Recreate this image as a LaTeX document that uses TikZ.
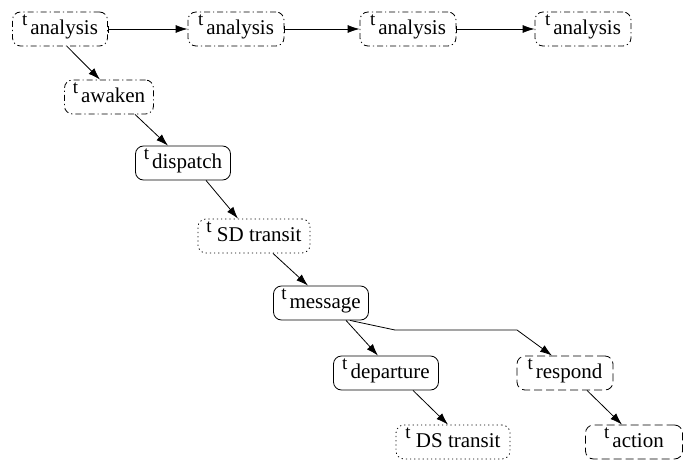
\documentclass[tikz,border=0pt]{standalone}
\usepackage{fontspec}
\setmainfont{LiberationSerif}[Extension=.ttf, UprightFont=*-Regular]
\newfontfamily\labfont{LiberationSerif}[Extension=.ttf, UprightFont=*-Regular]
\usetikzlibrary{arrows.meta}
\newcommand{\tlab}[2]{\raisebox{9pt}{\fontsize{19}{19}\selectfont t}#1#2}
\begin{document}
\begin{tikzpicture}[x=1pt,y=-1pt,
  box/.style={draw, rounded corners=8pt, line width=0.8pt, inner sep=0pt,
    minimum height=34pt, font=\labfont\fontsize{21}{25}\selectfont, text height=17pt, text depth=6pt},
  dd/.style={box, dash pattern=on 6pt off 3pt on 1.2pt off 3pt},
  dsh/.style={box, dash pattern=on 8pt off 4pt},
  dot/.style={box, dash pattern=on 1.2pt off 3pt},
  sol/.style={box},
  arr/.style={line width=0.8pt, -{Latex[length=12pt,width=8pt]}},
  barr/.style={line width=0.8pt, {Bar[width=7pt,line width=0.8pt]}-{Latex[length=12pt,width=8pt]}}
]
\useasboundingbox (0,0) rectangle (699,463);
\node[dd, minimum width=95pt] (a1) at (60,29) {\tlab{\hspace{3pt}}{analysis}};
\node[dd, minimum width=96pt] (a2) at (236,29) {\tlab{\hspace{3pt}}{analysis}};
\node[dd, minimum width=96pt] (a3) at (408,29) {\tlab{\hspace{3pt}}{analysis}};
\node[dd, minimum width=96pt] (a4) at (583,29) {\tlab{\hspace{3pt}}{analysis}};
\node[dd, minimum width=89pt] (aw) at (109,97) {\tlab{\hspace{3pt}}{awaken}};
\node[sol, minimum width=95pt] (di) at (183,163) {\tlab{\hspace{3pt}}{dispatch}};
\node[dot, minimum width=112pt] (sd) at (254,236) {\tlab{ }{SD transit}};
\node[sol, minimum width=95pt] (me) at (321,303) {\tlab{\hspace{3pt}}{message}};
\node[sol, minimum width=105pt] (de) at (386,373) {\tlab{\hspace{3pt}}{departure}};
\node[dot, minimum width=114pt] (ds) at (453,442) {\tlab{ }{DS transit}};
\node[dsh, minimum width=96pt] (re) at (565,373) {\tlab{\hspace{3pt}}{respond}};
\node[dsh, minimum width=97pt] (ac) at (634,442) {\tlab{\hspace{3pt}}{action}};

\draw[barr] (a1.east) -- (a2.west);
\draw[barr] (a2.east) -- (a3.west);
\draw[barr] (a3.east) -- (a4.west);
\draw[arr] ([xshift=7pt]a1.south) -- ([xshift=-9pt]aw.north);
\draw[arr] ([xshift=26pt]aw.south) -- ([xshift=-15pt]di.north);
\draw[arr] ([xshift=23pt]di.south) -- ([xshift=-16pt]sd.north);
\draw[arr] ([xshift=19pt]sd.south) -- ([xshift=-13pt]me.north);
\draw[arr] ([xshift=25pt]me.south) -- ([xshift=-8pt]de.north);
\draw[arr] ([xshift=27pt]de.south) -- ([xshift=-5pt]ds.north);
\draw[arr] ([xshift=22pt]re.south) -- ([xshift=-12pt]ac.north);
\coordinate (m1) at (395,330);
\coordinate (m2) at (517,330);
\draw[arr] ([xshift=29pt]me.south) -- (m1) -- (m2) -- ([xshift=-13pt]re.north);
\end{tikzpicture}
\end{document}
